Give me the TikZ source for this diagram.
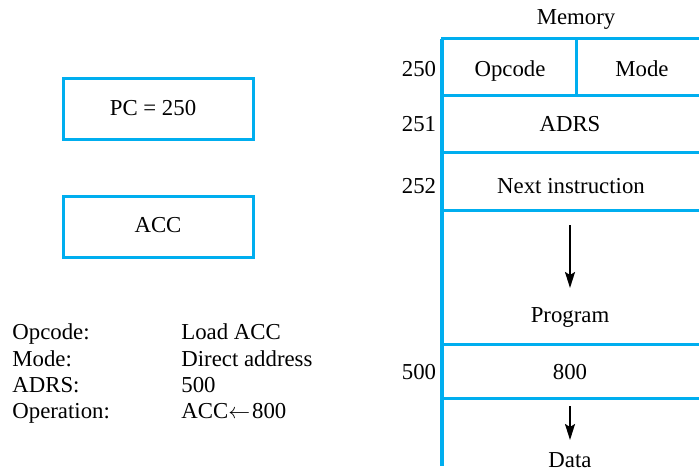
\documentclass[tikz,border=0pt]{standalone}
\usepackage{fontspec}
\setmainfont{Liberation Serif}
\usetikzlibrary{arrows.meta}
\definecolor{memblue}{RGB}{0,174,239}
\begin{document}
\begin{tikzpicture}[x=0.5pt,y=-0.5pt,
  txt/.style={font=\fontsize{11.4}{13}\selectfont, inner sep=0pt, anchor=base},
  ltxt/.style={txt, anchor=base west},
  reg/.style={draw=memblue, line width=1.5pt, minimum width=95pt, minimum height=30.5pt, inner sep=0pt},
  bline/.style={draw=memblue, line width=1.5pt},
  darr/.style={-{Stealth[length=8pt,width=5pt,inset=1.5pt]}, line width=1pt, black}]
\useasboundingbox (0,0) rectangle (699,470);
% registers
\node[reg] (pc) at (158,109.5) {};
\node[reg] (acc) at (158,227) {};
\node[txt] (pct) at (153,116) {PC = 250};
\node[txt] (acct) at (158,232) {ACC};
% instruction description
\node[ltxt] (l1) at (12,339) {Opcode:};
\node[ltxt] (l2) at (12,366) {Mode:};
\node[ltxt] (l3) at (12,392) {ADRS:};
\node[ltxt] (l4) at (12,418) {Operation:};
\node[ltxt] (r1) at (181,339) {Load ACC};
\node[ltxt] (r2) at (181,366) {Direct address};
\node[ltxt] (r3) at (181,392) {500};
\node[ltxt] (r4) at (181,418) {ACC$\leftarrow$\kern1pt800};
% memory
\coordinate (mtl) at (442,39);
\coordinate (mbl) at (442,466);
\begin{scope}
\clip (0,0) rectangle (699,470);
\draw[bline] (441,39) -- (705,39);
\foreach \yy in {96,153,210,344,398} {
  \draw[bline] (442,\yy) -- (705,\yy);
}
\draw[bline] (576,39) -- (576,96);
\draw[draw=memblue, line width=2pt] (mtl) -- (mbl);
\end{scope}
\node[txt] (mem) at (576,25) {Memory};
\node[txt] (a250) at (419,77) {250};
\node[txt] (a251) at (419,132) {251};
\node[txt] (a252) at (419,193) {252};
\node[txt] (a500) at (419,379) {500};
\node[txt] (opc) at (510,77) {Opcode};
\node[txt] (mode) at (642,77) {Mode};
\node[txt] (adrs) at (570,132) {ADRS};
\node[txt] (nxt) at (571,193) {Next instruction};
\node[txt] (prog) at (570,322) {Program};
\node[txt] (v800) at (570,379) {800};
\node[txt] (data) at (570,467) {Data};
\coordinate (p1) at (570,225);
\coordinate (p2) at (570,288);
\coordinate (d1) at (570,406);
\coordinate (d2) at (570,440);
\draw[darr] (p1) -- (p2);
\draw[darr] (d1) -- (d2);
\end{tikzpicture}
\end{document}
